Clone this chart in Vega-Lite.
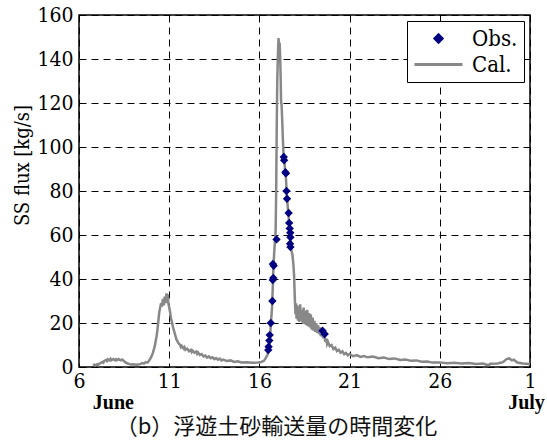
{
  "$schema": "https://vega.github.io/schema/vega-lite/v6.json",
  "width": 451,
  "height": 352,
  "autosize": {"type": "none"},
  "padding": {"left": 79, "top": 15, "right": 17, "bottom": 79},
  "background": "white",
  "title": {
    "text": "（b）浮遊土砂輸送量の時間変化",
    "orient": "bottom",
    "anchor": "middle",
    "dx": -28,
    "offset": 5,
    "font": "Noto Sans CJK JP",
    "fontSize": 22,
    "fontWeight": "normal",
    "color": "#111111"
  },
  "datasets": {
    "cal": [
      {"day": 6.78, "flux": 0.6, "series": "Cal."}, {"day": 6.85, "flux": 1.1, "series": "Cal."}, {"day": 6.9, "flux": 0.7, "series": "Cal."},
      {"day": 7.0, "flux": 1.2, "series": "Cal."}, {"day": 7.05, "flux": 0.8, "series": "Cal."}, {"day": 7.1, "flux": 1.4, "series": "Cal."},
      {"day": 7.2, "flux": 1.8, "series": "Cal."}, {"day": 7.3, "flux": 2.3, "series": "Cal."}, {"day": 7.35, "flux": 2.0, "series": "Cal."},
      {"day": 7.4, "flux": 2.8, "series": "Cal."}, {"day": 7.5, "flux": 3.2, "series": "Cal."}, {"day": 7.55, "flux": 2.7, "series": "Cal."},
      {"day": 7.6, "flux": 3.5, "series": "Cal."}, {"day": 7.7, "flux": 3.0, "series": "Cal."}, {"day": 7.75, "flux": 3.7, "series": "Cal."},
      {"day": 7.8, "flux": 3.1, "series": "Cal."}, {"day": 7.9, "flux": 3.6, "series": "Cal."}, {"day": 8.0, "flux": 3.0, "series": "Cal."},
      {"day": 8.05, "flux": 3.5, "series": "Cal."}, {"day": 8.1, "flux": 3.1, "series": "Cal."}, {"day": 8.2, "flux": 3.6, "series": "Cal."},
      {"day": 8.3, "flux": 3.0, "series": "Cal."}, {"day": 8.4, "flux": 3.4, "series": "Cal."}, {"day": 8.5, "flux": 2.6, "series": "Cal."},
      {"day": 8.6, "flux": 2.0, "series": "Cal."}, {"day": 8.7, "flux": 1.6, "series": "Cal."}, {"day": 8.8, "flux": 1.3, "series": "Cal."},
      {"day": 8.9, "flux": 1.1, "series": "Cal."}, {"day": 9.0, "flux": 1.2, "series": "Cal."}, {"day": 9.2, "flux": 1.0, "series": "Cal."},
      {"day": 9.4, "flux": 1.3, "series": "Cal."}, {"day": 9.5, "flux": 1.8, "series": "Cal."}, {"day": 9.6, "flux": 1.5, "series": "Cal."},
      {"day": 9.7, "flux": 2.2, "series": "Cal."}, {"day": 9.8, "flux": 2.0, "series": "Cal."}, {"day": 9.9, "flux": 3.0, "series": "Cal."},
      {"day": 10.0, "flux": 4.5, "series": "Cal."}, {"day": 10.1, "flux": 6.5, "series": "Cal."}, {"day": 10.2, "flux": 9.5, "series": "Cal."},
      {"day": 10.3, "flux": 14, "series": "Cal."}, {"day": 10.35, "flux": 17, "series": "Cal."}, {"day": 10.4, "flux": 21, "series": "Cal."},
      {"day": 10.45, "flux": 25, "series": "Cal."}, {"day": 10.5, "flux": 27, "series": "Cal."}, {"day": 10.55, "flux": 29, "series": "Cal."},
      {"day": 10.6, "flux": 27.5, "series": "Cal."}, {"day": 10.65, "flux": 31, "series": "Cal."}, {"day": 10.7, "flux": 28, "series": "Cal."},
      {"day": 10.75, "flux": 32, "series": "Cal."}, {"day": 10.8, "flux": 29, "series": "Cal."}, {"day": 10.85, "flux": 33.5, "series": "Cal."},
      {"day": 10.88, "flux": 30, "series": "Cal."}, {"day": 10.92, "flux": 33, "series": "Cal."}, {"day": 10.95, "flux": 29, "series": "Cal."},
      {"day": 11.0, "flux": 27, "series": "Cal."}, {"day": 11.05, "flux": 25, "series": "Cal."}, {"day": 11.1, "flux": 22, "series": "Cal."},
      {"day": 11.15, "flux": 20.5, "series": "Cal."}, {"day": 11.2, "flux": 18.5, "series": "Cal."}, {"day": 11.25, "flux": 17, "series": "Cal."},
      {"day": 11.3, "flux": 15.5, "series": "Cal."}, {"day": 11.35, "flux": 14, "series": "Cal."}, {"day": 11.4, "flux": 12.5, "series": "Cal."},
      {"day": 11.45, "flux": 11.8, "series": "Cal."}, {"day": 11.5, "flux": 11, "series": "Cal."}, {"day": 11.6, "flux": 10, "series": "Cal."},
      {"day": 11.65, "flux": 9.0, "series": "Cal."}, {"day": 11.7, "flux": 9.6, "series": "Cal."}, {"day": 11.8, "flux": 8.4, "series": "Cal."},
      {"day": 11.85, "flux": 9.0, "series": "Cal."}, {"day": 11.9, "flux": 7.8, "series": "Cal."}, {"day": 12.0, "flux": 8.3, "series": "Cal."},
      {"day": 12.1, "flux": 7.2, "series": "Cal."}, {"day": 12.2, "flux": 7.8, "series": "Cal."}, {"day": 12.25, "flux": 6.8, "series": "Cal."},
      {"day": 12.3, "flux": 7.4, "series": "Cal."}, {"day": 12.4, "flux": 6.5, "series": "Cal."}, {"day": 12.5, "flux": 7.0, "series": "Cal."},
      {"day": 12.55, "flux": 6.0, "series": "Cal."}, {"day": 12.6, "flux": 6.6, "series": "Cal."}, {"day": 12.7, "flux": 5.5, "series": "Cal."},
      {"day": 12.8, "flux": 5.9, "series": "Cal."}, {"day": 12.9, "flux": 4.8, "series": "Cal."}, {"day": 13.0, "flux": 5.2, "series": "Cal."},
      {"day": 13.1, "flux": 4.3, "series": "Cal."}, {"day": 13.2, "flux": 4.8, "series": "Cal."}, {"day": 13.3, "flux": 4.0, "series": "Cal."},
      {"day": 13.4, "flux": 4.4, "series": "Cal."}, {"day": 13.5, "flux": 3.6, "series": "Cal."}, {"day": 13.6, "flux": 4.1, "series": "Cal."},
      {"day": 13.7, "flux": 3.3, "series": "Cal."}, {"day": 13.8, "flux": 3.8, "series": "Cal."}, {"day": 13.9, "flux": 3.0, "series": "Cal."},
      {"day": 14.0, "flux": 3.4, "series": "Cal."}, {"day": 14.2, "flux": 2.7, "series": "Cal."}, {"day": 14.4, "flux": 3.0, "series": "Cal."},
      {"day": 14.6, "flux": 2.3, "series": "Cal."}, {"day": 14.8, "flux": 2.6, "series": "Cal."}, {"day": 15.0, "flux": 2.1, "series": "Cal."},
      {"day": 15.3, "flux": 2.2, "series": "Cal."}, {"day": 15.6, "flux": 1.9, "series": "Cal."}, {"day": 15.9, "flux": 2.0, "series": "Cal."},
      {"day": 16.1, "flux": 2.3, "series": "Cal."}, {"day": 16.25, "flux": 2.8, "series": "Cal."}, {"day": 16.35, "flux": 4.0, "series": "Cal."},
      {"day": 16.45, "flux": 5.5, "series": "Cal."}, {"day": 16.5, "flux": 7.5, "series": "Cal."}, {"day": 16.55, "flux": 10, "series": "Cal."},
      {"day": 16.6, "flux": 14, "series": "Cal."}, {"day": 16.63, "flux": 19, "series": "Cal."}, {"day": 16.7, "flux": 27, "series": "Cal."},
      {"day": 16.75, "flux": 38, "series": "Cal."}, {"day": 16.78, "flux": 46, "series": "Cal."}, {"day": 16.82, "flux": 52, "series": "Cal."},
      {"day": 16.87, "flux": 58, "series": "Cal."}, {"day": 16.9, "flux": 62, "series": "Cal."}, {"day": 16.93, "flux": 80, "series": "Cal."},
      {"day": 16.96, "flux": 108, "series": "Cal."}, {"day": 16.99, "flux": 130, "series": "Cal."}, {"day": 17.02, "flux": 140, "series": "Cal."},
      {"day": 17.06, "flux": 149.5, "series": "Cal."}, {"day": 17.09, "flux": 145, "series": "Cal."}, {"day": 17.12, "flux": 147.5, "series": "Cal."},
      {"day": 17.15, "flux": 141, "series": "Cal."}, {"day": 17.18, "flux": 131, "series": "Cal."}, {"day": 17.2, "flux": 121, "series": "Cal."},
      {"day": 17.23, "flux": 119, "series": "Cal."}, {"day": 17.27, "flux": 111, "series": "Cal."}, {"day": 17.3, "flux": 104, "series": "Cal."},
      {"day": 17.33, "flux": 98, "series": "Cal."}, {"day": 17.37, "flux": 95, "series": "Cal."}, {"day": 17.42, "flux": 90, "series": "Cal."},
      {"day": 17.47, "flux": 86, "series": "Cal."}, {"day": 17.52, "flux": 78, "series": "Cal."}, {"day": 17.58, "flux": 72, "series": "Cal."},
      {"day": 17.63, "flux": 67, "series": "Cal."}, {"day": 17.68, "flux": 62, "series": "Cal."}, {"day": 17.73, "flux": 57, "series": "Cal."},
      {"day": 17.78, "flux": 53, "series": "Cal."}, {"day": 17.83, "flux": 51, "series": "Cal."}, {"day": 17.88, "flux": 47, "series": "Cal."},
      {"day": 17.92, "flux": 42, "series": "Cal."}, {"day": 17.96, "flux": 32, "series": "Cal."}, {"day": 18.0, "flux": 24, "series": "Cal."},
      {"day": 18.03, "flux": 29, "series": "Cal."}, {"day": 18.06, "flux": 22, "series": "Cal."}, {"day": 18.1, "flux": 28, "series": "Cal."},
      {"day": 18.14, "flux": 21, "series": "Cal."}, {"day": 18.18, "flux": 27, "series": "Cal."}, {"day": 18.22, "flux": 20.5, "series": "Cal."},
      {"day": 18.26, "flux": 28.5, "series": "Cal."}, {"day": 18.3, "flux": 21, "series": "Cal."}, {"day": 18.35, "flux": 26, "series": "Cal."},
      {"day": 18.4, "flux": 20, "series": "Cal."}, {"day": 18.45, "flux": 27, "series": "Cal."}, {"day": 18.5, "flux": 19.5, "series": "Cal."},
      {"day": 18.55, "flux": 25.5, "series": "Cal."}, {"day": 18.6, "flux": 19, "series": "Cal."}, {"day": 18.65, "flux": 26, "series": "Cal."},
      {"day": 18.7, "flux": 18.5, "series": "Cal."}, {"day": 18.75, "flux": 24.5, "series": "Cal."}, {"day": 18.8, "flux": 18, "series": "Cal."},
      {"day": 18.85, "flux": 24, "series": "Cal."}, {"day": 18.9, "flux": 17, "series": "Cal."}, {"day": 18.95, "flux": 22.5, "series": "Cal."},
      {"day": 19.0, "flux": 16.5, "series": "Cal."}, {"day": 19.05, "flux": 21, "series": "Cal."}, {"day": 19.1, "flux": 16, "series": "Cal."},
      {"day": 19.15, "flux": 20, "series": "Cal."}, {"day": 19.2, "flux": 15.5, "series": "Cal."}, {"day": 19.25, "flux": 19, "series": "Cal."},
      {"day": 19.3, "flux": 15, "series": "Cal."}, {"day": 19.35, "flux": 18, "series": "Cal."}, {"day": 19.4, "flux": 14, "series": "Cal."},
      {"day": 19.5, "flux": 16, "series": "Cal."}, {"day": 19.55, "flux": 13, "series": "Cal."}, {"day": 19.6, "flux": 14.5, "series": "Cal."},
      {"day": 19.65, "flux": 11.5, "series": "Cal."}, {"day": 19.7, "flux": 13, "series": "Cal."}, {"day": 19.75, "flux": 10.5, "series": "Cal."},
      {"day": 19.8, "flux": 11.5, "series": "Cal."}, {"day": 19.9, "flux": 9.5, "series": "Cal."}, {"day": 20.0, "flux": 10, "series": "Cal."},
      {"day": 20.1, "flux": 8.2, "series": "Cal."}, {"day": 20.2, "flux": 8.8, "series": "Cal."}, {"day": 20.3, "flux": 7.2, "series": "Cal."},
      {"day": 20.4, "flux": 7.8, "series": "Cal."}, {"day": 20.5, "flux": 6.5, "series": "Cal."}, {"day": 20.6, "flux": 7.1, "series": "Cal."},
      {"day": 20.7, "flux": 5.8, "series": "Cal."}, {"day": 20.8, "flux": 6.4, "series": "Cal."}, {"day": 20.9, "flux": 5.3, "series": "Cal."},
      {"day": 21.0, "flux": 5.9, "series": "Cal."}, {"day": 21.2, "flux": 4.9, "series": "Cal."}, {"day": 21.4, "flux": 5.4, "series": "Cal."},
      {"day": 21.6, "flux": 4.6, "series": "Cal."}, {"day": 21.8, "flux": 5.0, "series": "Cal."}, {"day": 22.0, "flux": 4.4, "series": "Cal."},
      {"day": 22.3, "flux": 4.8, "series": "Cal."}, {"day": 22.6, "flux": 4.0, "series": "Cal."}, {"day": 22.9, "flux": 4.3, "series": "Cal."},
      {"day": 23.2, "flux": 3.6, "series": "Cal."}, {"day": 23.5, "flux": 3.9, "series": "Cal."}, {"day": 23.8, "flux": 3.2, "series": "Cal."},
      {"day": 24.1, "flux": 3.4, "series": "Cal."}, {"day": 24.4, "flux": 2.8, "series": "Cal."}, {"day": 24.7, "flux": 3.0, "series": "Cal."},
      {"day": 25.0, "flux": 2.4, "series": "Cal."}, {"day": 25.3, "flux": 2.5, "series": "Cal."}, {"day": 25.6, "flux": 2.0, "series": "Cal."},
      {"day": 26.0, "flux": 2.1, "series": "Cal."}, {"day": 26.4, "flux": 1.7, "series": "Cal."}, {"day": 26.8, "flux": 1.9, "series": "Cal."},
      {"day": 27.2, "flux": 1.6, "series": "Cal."}, {"day": 27.6, "flux": 1.8, "series": "Cal."}, {"day": 28.0, "flux": 1.4, "series": "Cal."},
      {"day": 28.4, "flux": 1.6, "series": "Cal."}, {"day": 28.7, "flux": 0.8, "series": "Cal."}, {"day": 28.8, "flux": 1.5, "series": "Cal."},
      {"day": 29.2, "flux": 1.6, "series": "Cal."}, {"day": 29.5, "flux": 2.2, "series": "Cal."}, {"day": 29.7, "flux": 3.6, "series": "Cal."},
      {"day": 29.85, "flux": 3.9, "series": "Cal."}, {"day": 30.0, "flux": 3.0, "series": "Cal."}, {"day": 30.1, "flux": 3.3, "series": "Cal."},
      {"day": 30.3, "flux": 2.0, "series": "Cal."}, {"day": 30.6, "flux": 1.6, "series": "Cal."}, {"day": 31.0, "flux": 1.4, "series": "Cal."}
    ],
    "obs": [
      {"day": 16.49, "flux": 7.7, "series": "Obs."}, {"day": 16.51, "flux": 9.2, "series": "Obs."}, {"day": 16.55, "flux": 12, "series": "Obs."},
      {"day": 16.57, "flux": 14.5, "series": "Obs."}, {"day": 16.63, "flux": 20, "series": "Obs."}, {"day": 16.72, "flux": 30, "series": "Obs."},
      {"day": 16.74, "flux": 39.5, "series": "Obs."}, {"day": 16.77, "flux": 40.5, "series": "Obs."}, {"day": 16.75, "flux": 46.8, "series": "Obs."},
      {"day": 16.79, "flux": 46, "series": "Obs."}, {"day": 16.95, "flux": 58, "series": "Obs."}, {"day": 17.35, "flux": 95.5, "series": "Obs."},
      {"day": 17.37, "flux": 94, "series": "Obs."}, {"day": 17.44, "flux": 88.5, "series": "Obs."}, {"day": 17.47, "flux": 88, "series": "Obs."},
      {"day": 17.5, "flux": 80, "series": "Obs."}, {"day": 17.53, "flux": 76.5, "series": "Obs."}, {"day": 17.62, "flux": 70, "series": "Obs."},
      {"day": 17.65, "flux": 65.5, "series": "Obs."}, {"day": 17.68, "flux": 63, "series": "Obs."}, {"day": 17.71, "flux": 61, "series": "Obs."},
      {"day": 17.72, "flux": 59, "series": "Obs."}, {"day": 17.7, "flux": 56, "series": "Obs."}, {"day": 17.72, "flux": 54.5, "series": "Obs."},
      {"day": 19.5, "flux": 16.5, "series": "Obs."}, {"day": 19.62, "flux": 15, "series": "Obs."}
    ]
  },
  "layer": [
    {
      "data": {"name": "cal"},
      "mark": {"type": "line", "strokeWidth": 2.5, "clip": true},
      "encoding": {
        "x": {
          "field": "day", "type": "quantitative",
          "scale": {"domain": [6, 31], "nice": false, "zero": false},
          "axis": {
            "title": null,
            "values": [6, 11, 16, 21, 26, 31],
            "labelExpr": "datum.value == 31 ? '1' : datum.label",
            "labelFlush": false,
            "labelPadding": 3,
            "labelFont": "DejaVu Serif Condensed",
            "labelFontSize": 21,
            "domain": false,
            "ticks": false,
            "grid": true
          }
        },
        "y": {
          "field": "flux", "type": "quantitative",
          "scale": {"domain": [0, 160], "nice": false},
          "axis": {
            "title": "SS flux [kg/s]",
            "titleFont": "DejaVu Serif Condensed",
            "titleFontSize": 20,
            "labelFont": "DejaVu Serif Condensed",
            "titlePadding": 4,
            "titleY": 150,
            "values": [0, 20, 40, 60, 80, 100, 120, 140, 160],
            "labelPadding": 6,
            "domain": false,
            "ticks": false,
            "grid": true
          }
        },
        "color": {
          "field": "series", "type": "nominal",
          "scale": {"domain": ["Obs.", "Cal."], "range": ["#000080", "#888888"]},
          "legend": {
            "title": null,
            "orient": "top-right",
            "offset": 6,
            "padding": 6,
            "fillColor": "white",
            "strokeColor": "black",
            "cornerRadius": 0,
            "labelFont": "DejaVu Serif Condensed",
            "labelFontSize": 22,
            "labelOffset": 8,
            "symbolSize": 2304,
            "symbolStrokeWidth": 3,
            "clipHeight": 23,
            "rowPadding": 3,
            "encode": {
              "symbols": {
                "update": {
                  "shape": {"signal": "datum.value === 'Obs.' ? 'diamond' : 'stroke'"},
                  "size": {"signal": "datum.value === 'Obs.' ? 50 : 2304"},
                  "fill": {"signal": "datum.value === 'Obs.' ? '#000080' : 'transparent'"},
                  "stroke": {"signal": "datum.value === 'Obs.' ? 'transparent' : '#888888'"},
                  "strokeWidth": {"value": 3},
                  "opacity": {"value": 1}
                }
              }
            }
          }
        }
      }
    },
    {
      "data": {"name": "obs"},
      "mark": {"type": "point", "shape": "diamond", "filled": true, "opacity": 1, "size": 70},
      "encoding": {
        "x": {
          "field": "day", "type": "quantitative",
          "axis": {
            "orient": "bottom",
            "title": null,
            "values": [7.88, 30.78],
            "labelExpr": "datum.value < 20 ? 'June' : 'July'",
            "labelFlush": false,
            "labelOverlap": false,
            "labelPadding": 25,
            "labelFont": "Liberation Serif",
            "labelFontSize": 20,
            "labelFontWeight": "bold",
            "domain": false,
            "ticks": false,
            "grid": false
          }
        },
        "y": {"field": "flux", "type": "quantitative"},
        "color": {"field": "series", "type": "nominal"}
      }
    }
  ],
  "resolve": {"axis": {"x": "independent"}},
  "config": {
    "view": {"stroke": "black", "strokeWidth": 1.5},
    "axis": {
      "labelFont": "DejaVu Serif Condensed",
      "labelFontSize": 21,
      "labelColor": "black",
      "titleFont": "DejaVu Serif Condensed",
      "titleFontSize": 20,
      "titleFontWeight": "normal",
      "titleColor": "black",
      "gridDash": [7, 5],
      "gridColor": "black",
      "gridOpacity": 1,
      "gridWidth": 1
    },
    "legend": {
      "labelFont": "DejaVu Serif Condensed",
      "labelFontSize": 22,
      "labelColor": "black"
    }
  }
}
